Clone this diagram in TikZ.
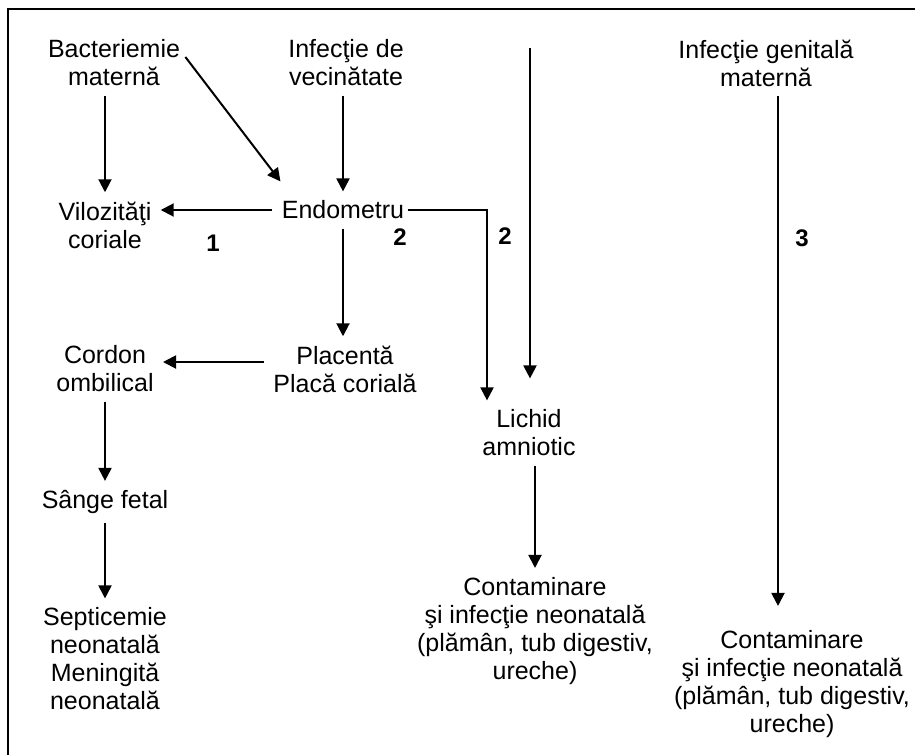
\documentclass[tikz,border=0pt]{standalone}
\usepackage{fontspec}
\setmainfont{Liberation Sans}
\usetikzlibrary{arrows.meta}

\begin{document}
\begin{tikzpicture}[x=0.5pt,y=-0.5pt,
		box/.style={align=center,inner sep=4.5pt,font=\fontsize{12.5}{14}\selectfont},
		num/.style={inner sep=1pt,font=\fontsize{12}{14}\selectfont\bfseries},
		arr/.style={line width=1pt,-{Triangle[length=6.5pt,width=6.5pt]}}]
		\useasboundingbox (0,0) rectangle (915,755);
		\draw[line width=1pt] (8,755) -- (8,9) -- (915,9);
		% sources
		\node[box] (bact) at (114,63) {Bacteriemie\\maternă};
		\node[box] (vec) at (346,63) {Infecţie de\\vecinătate};
		\node[box] (gen) at (766,63) {Infecţie genitală\\maternă};
		% route 1
		\node[box] (vil) at (105,225) {Vilozităţi\\coriale};
		\node[box] (endo) at (343,210) {Endometru};
		\node[box] (cord) at (105,369) {Cordon\\ombilical};
		\node[box] (plac) at (345,369) {Placentă\\Placă corială};
		\node[box] (sange) at (105,502) {Sânge fetal};
		\node[box] (sept) at (105,659) {Septicemie\\neonatală\\Meningită\\neonatală};
		% route 2 and 3
		\node[box] (lich) at (529,433) {Lichid\\amniotic};
		\node[box] (cont1) at (535,631) {Contaminare\\şi infecţie neonatală\\(plămân, tub digestiv,\\ureche)};
		\node[box] (cont2) at (792,684) {Contaminare\\şi infecţie neonatală\\(plămân, tub digestiv,\\ureche)};
		\node[num] (n1) at (213,243) {1};
		\node[num] (n2a) at (400,237) {2};
		\node[num] (n2b) at (505,236) {2};
		\node[num] (n3) at (802,238) {3};
		\coordinate (amtop) at (530,48);
		\coordinate (lichin) at ([xshift=-21pt]lich.north);
		\coordinate (gentail) at ([xshift=6pt]gen.south);
		\draw[arr] (bact.south -| vil.north) -- (vil.north);
		\draw[arr] ([shift={(-2pt,3pt)}]bact.east) -- ([shift={(4pt,5pt)}]endo.north west);
		\draw[arr] (vec.south -| endo.north) -- (endo.north);
		\draw[arr] (endo.west) -- (endo.west -| vil.east);
		\draw[arr] (endo.south) -- (endo.south |- plac.north);
		\draw[arr] ([yshift=3.5pt]plac.west) -- ([yshift=3.5pt]cord.east);
		\draw[arr] (cord) -- (sange);
		\draw[arr] (sange) -- (sept);
		\draw[arr] ([xshift=-3pt]endo.east) -| (lichin);
		\draw[arr,shorten >=11pt] (amtop) -- (amtop |- lich.north);
		\draw[arr] (lich.south -| cont1.north) -- (cont1.north);
		\draw[arr,shorten >=7.5pt] (gentail) -- (gentail |- cont2.north);
	\end{tikzpicture}
\end{document}
